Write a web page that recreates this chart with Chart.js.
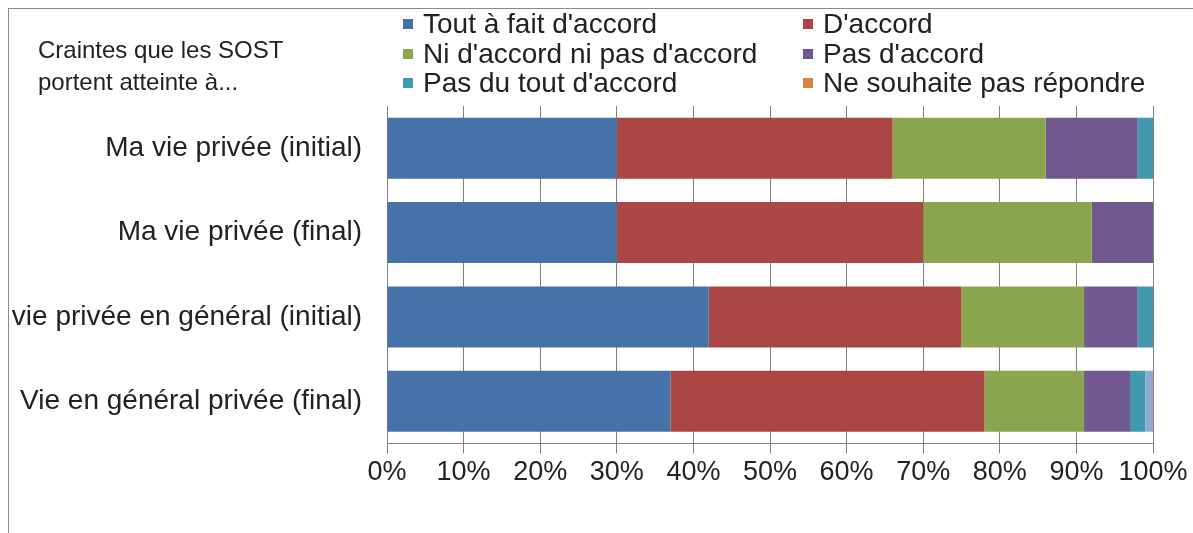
<!DOCTYPE html>
<html>
<head>
<meta charset="utf-8">
<script src="https://cdn.jsdelivr.net/npm/chart.js@4/dist/chart.umd.min.js"></script>
<style>
  html, body { margin: 0; padding: 0; background: #fff; }
  #wrap { position: relative; width: 1193px; height: 533px; overflow: hidden; font-family: "Liberation Sans", Arial, sans-serif; }
  #frame { position: absolute; left: 8px; top: 8px; width: 1300px; height: 700px; border: 1px solid #8a8a8a; }
  #title { position: absolute; left: 38px; top: 34px; font-size: 24px; line-height: 32px; color: #222; white-space: nowrap; }
  #legend { position: absolute; left: 403px; top: 9px; font-size: 28px; line-height: 30px; color: #222; }
  .item { position: absolute; white-space: nowrap; height: 30px; }
  .box { position: absolute; left: 0; top: 10px; width: 10px; height: 10px; }
  .txt { position: absolute; left: 20px; top: 0; }
  canvas { position: absolute; left: 0; top: 0; }
</style>
</head>
<body>
<div id="wrap">
  <div id="frame"></div>
  <canvas id="chart" width="1193" height="533"></canvas>
  <div id="title">Craintes que les SOST<br>portent atteinte à...</div>
  <div id="legend"></div>
</div>
<script>
const categories = [
  'Ma vie privée (initial)',
  'Ma vie privée (final)',
  'vie privée en général (initial)',
  'Vie en général privée (final)'
];
const seriesNames = [
  "Tout à fait d'accord",
  "D'accord",
  "Ni d'accord ni pas d'accord",
  "Pas d'accord",
  "Pas du tout d'accord",
  'Ne souhaite pas répondre',
  ''
];
const toutAFait = [30, 30, 42, 37];
const dAccord = [36, 40, 33, 41];
const ni = [20, 22, 16, 13];
const pasDAccord = [12, 8, 7, 6];
const pasDuTout = [2, 0, 2, 2];
const neSouhaite = [0, 0, 0, 0];
const autre = [0, 0, 0, 1];
const xTicks = [0, 10, 20, 30, 40, 50, 60, 70, 80, 90, 100];

const colors = ['#4572A7', '#AA4643', '#89A54E', '#71588F', '#4198AF', '#DB843D', '#93A9CF'];
const values = [toutAFait, dAccord, ni, pasDAccord, pasDuTout, neSouhaite, autre];

const datasets = values.map((v, i) => ({
  label: seriesNames[i],
  data: v,
  backgroundColor: colors[i],
  borderWidth: 0,
  barPercentage: 0.724,
  categoryPercentage: 1
}));

const font = { family: '"Liberation Sans", Arial, sans-serif', size: 28 };

const chart = new Chart(document.getElementById('chart'), {
  type: 'bar',
  data: { labels: categories, datasets: datasets },
  options: {
    indexAxis: 'y',
    responsive: false,
    animation: false,
    layout: { padding: { left: 0, top: 106, right: 40, bottom: 0 } },
    plugins: { legend: { display: false }, tooltip: { enabled: false } },
    scales: {
      x: {
        stacked: true,
        min: 0,
        max: 100,
        afterBuildTicks: (scale) => { scale.ticks = xTicks.map(v => ({ value: v })); },
        ticks: { color: '#222', font: { family: font.family, size: 27 }, padding: 3, maxRotation: 0, callback: (v) => v + '%' },
        grid: { color: '#808080', lineWidth: 1, tickLength: 10, drawOnChartArea: true },
        border: { color: '#808080' },
        afterFit: (scale) => { scale.height = 89.5; }
      },
      y: {
        stacked: true,
        ticks: { color: '#222', font: font, padding: 17 },
        grid: { display: false },
        border: { color: '#808080' },
        afterFit: (scale) => { scale.width = 387; }
      }
    }
  }
});

// legend in two columns, built from the datasets
const legend = document.getElementById('legend');
datasets.slice(0, 6).forEach((ds, i) => {
  const item = document.createElement('div');
  item.className = 'item';
  item.style.left = (i % 2 === 0 ? 0 : 400) + 'px';
  item.style.top = (Math.floor(i / 2) * 29.5) + 'px';
  item.innerHTML = '<span class="box" style="background:' + ds.backgroundColor + '"></span><span class="txt">' + ds.label + '</span>';
  legend.appendChild(item);
});
</script>
</body>
</html>
